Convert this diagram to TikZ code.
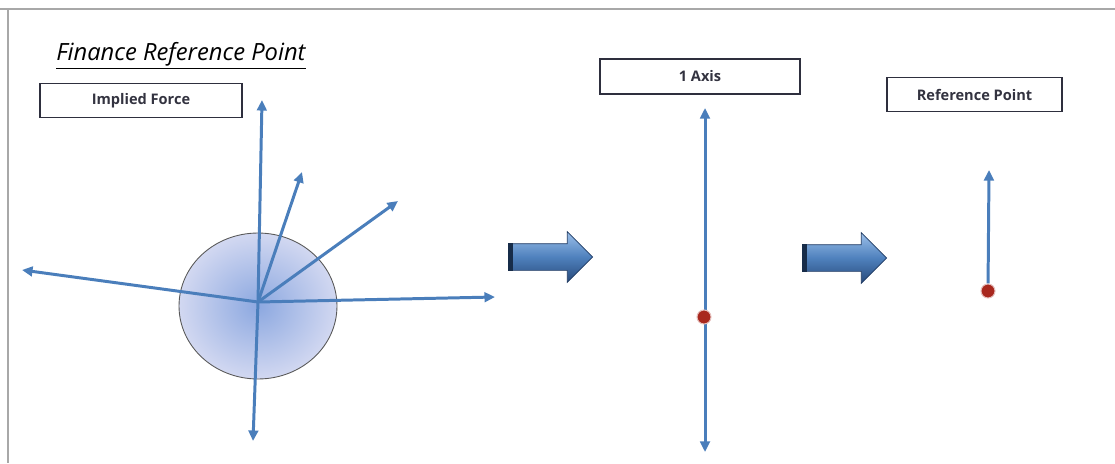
\documentclass[tikz,border=0pt]{standalone}
\usepackage{fontspec}
\setmainfont{Open Sans}
\usetikzlibrary{arrows.meta,shapes.arrows,shapes.geometric}

\definecolor{forceblue}{HTML}{4A7EBB}
\definecolor{boxline}{HTML}{2E2F3E}
\definecolor{boxtext}{HTML}{333340}
\definecolor{framegray}{HTML}{A8A8A8}
\definecolor{dotred}{HTML}{A8281E}
\definecolor{blobin}{RGB}{140,168,224}
\definecolor{blobout}{RGB}{210,216,241}
\definecolor{steptop}{HTML}{9CC0EA}
\definecolor{stepmid}{HTML}{4F81BD}
\definecolor{stepbot}{HTML}{27497A}

\tikzset{
  labelbox/.style={draw=boxline, line width=0.9pt, fill=white, minimum width=4cm,
    minimum height=0.68cm, inner sep=0pt, text=boxtext,
    font=\bfseries\fontsize{8.3}{10}\selectfont},
  force/.style={forceblue, line width=1.7pt, -{Triangle[length=6pt,width=5.5pt]}},
  steparrow/.style={single arrow, draw=stepbot!80!black, line width=0.4pt,
    minimum height=1.68cm, inner xsep=0pt, inner ysep=0.26cm,
    single arrow head extend=0.24cm,
    top color=steptop, bottom color=stepbot, middle color=stepmid},
  refdot/.style={circle, fill=dotred, draw=white!70!dotred, line width=0.6pt,
    minimum size=0.28cm, inner sep=0pt}
}

\begin{document}
\begin{tikzpicture}[x=0.02cm, y=-0.02cm]
    \useasboundingbox (0,0) rectangle (1115,463);

    % Frame
    \draw[framegray, line width=1.1pt] (0,9) -- (1115,9);
    \draw[framegray, line width=1.1pt] (8,9) -- (8,463);

    % Title
    \node[anchor=base west, inner sep=0pt, font=\itshape\fontsize{13.5}{16}\selectfont] (title) at (56,60) {\underline{Finance Reference Point}};

    % Labels
    \node[labelbox, minimum width=4.04cm] (implied) at (141,100.5) {Implied Force};
    \node[labelbox, minimum height=0.7cm] (axis) at (700,76.5) {1 Axis};
    \node[labelbox, minimum width=3.5cm] (refbox) at (974.5,94.5) {Reference Point};

    % Implied forces around the point
    \node[ellipse, draw=black!65, line width=0.5pt, inner color=blobin, outer color=blobout,
      minimum width=3.16cm, minimum height=2.92cm] (blob) at (258,306) {};
    \coordinate (hub) at (258,302);
    \coordinate (fup) at (262,100);
    \coordinate (fsteep) at (302,172);
    \coordinate (fslope) at (398,201);
    \coordinate (fright) at (495,297);
    \coordinate (fleft) at (22,270);
    \coordinate (fdown) at (253,441);
    \foreach \tip in {fup,fsteep,fslope,fright,fleft,fdown}
        \draw[force] (hub) -- (\tip);

    % Step arrows
    \node[steparrow] (move1) at (544,257) {};
    \draw[stepbot!60!black, line width=2.4pt] ([xshift=1.2pt]move1.before tail) -- ([xshift=1.2pt]move1.after tail);
    \node[steparrow] (move2) at (838,258) {};
    \draw[stepbot!60!black, line width=2.4pt] ([xshift=1.2pt]move2.before tail) -- ([xshift=1.2pt]move2.after tail);

    % One axis
    \coordinate (axtop) at (705,108);
    \coordinate (axbot) at (705,452);
    \draw[force, {Triangle[length=6pt,width=5.5pt]}-{Triangle[length=6pt,width=5.5pt]}] (axtop) -- (axbot);
    \node[refdot] (axdot) at (704,317) {};

    % Reference point
    \node[refdot] (point) at (988,291) {};
    \coordinate (reftip) at (989,170);
    \draw[force] (point) -- (reftip);
\end{tikzpicture}
\end{document}
